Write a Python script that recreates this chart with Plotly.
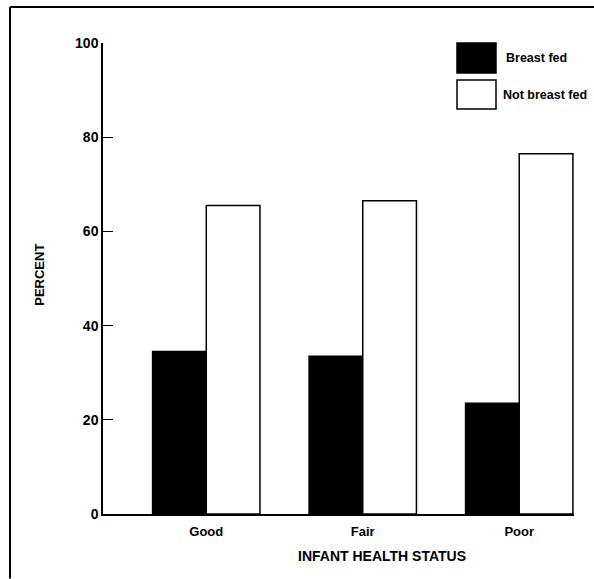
import plotly.graph_objects as go

categories = ["Good", "Fair", "Poor"]
breast_fed = [34.5, 33.5, 23.5]
not_breast_fed = [65.5, 66.5, 76.5]
y_ticks = [0, 20, 40, 60, 80, 100]
series_names = ["Breast fed", "Not breast fed"]

FONT = "Liberation Sans, Arial, Helvetica, sans-serif"
xpos = list(range(len(categories)))

fig = go.Figure()
fig.add_trace(go.Bar(x=xpos, y=breast_fed, name=series_names[0],
                     marker=dict(color="black", line=dict(color="black", width=1.5))))
fig.add_trace(go.Bar(x=xpos, y=not_breast_fed, name=series_names[1],
                     marker=dict(color="white", line=dict(color="black", width=1.5))))

fig.update_layout(
    width=594, height=579,
    margin=dict(l=103, r=20, t=43, b=65),
    paper_bgcolor="white", plot_bgcolor="white",
    barmode="group", bargap=0.314, bargroupgap=0,
    showlegend=False,
    font=dict(family=FONT, size=13, color="black", weight="bold"),
    xaxis=dict(range=[-0.66, 2.35], tickvals=xpos, ticktext=categories,
               showline=True, linecolor="black", linewidth=1.5,
               showgrid=False, zeroline=False, ticks="", ticklabelstandoff=5,
               tickfont=dict(family=FONT, size=13, weight="bold")),
    yaxis=dict(range=[0, 100], tickvals=y_ticks,
               showline=True, linecolor="black", linewidth=1.5,
               showgrid=False, zeroline=False, ticks="inside", ticklen=10,
               tickcolor="black", tickwidth=1.2,
               tickfont=dict(family=FONT, size=14, weight="bold")),
)

W = 471.0  # plot width in px
H = 471.5  # plot height in px

# axis titles
fig.add_annotation(text="INFANT HEALTH STATUS", xref="paper", yref="paper",
                   x=(382 - 103) / W, y=(514.5 - 557) / H, showarrow=False,
                   xanchor="center", yanchor="middle",
                   font=dict(family=FONT, size=14, weight="bold"))
fig.add_annotation(text="PERCENT", xref="paper", yref="paper",
                   x=(40 - 103) / W, y=(514.5 - 275) / H, showarrow=False,
                   textangle=-90, xanchor="center", yanchor="middle",
                   font=dict(family=FONT, size=13, weight="bold"))

# legend
fig.add_shape(type="rect", xref="paper", yref="paper",
              x0=(457 - 103) / W, x1=(496 - 103) / W,
              y0=(514.5 - 73) / H, y1=(514.5 - 43) / H,
              fillcolor="black", line=dict(color="black", width=1.5))
fig.add_shape(type="rect", xref="paper", yref="paper",
              x0=(457 - 103) / W, x1=(496 - 103) / W,
              y0=(514.5 - 109) / H, y1=(514.5 - 80) / H,
              fillcolor="white", line=dict(color="black", width=1.5))
fig.add_annotation(text=series_names[0], xref="paper", yref="paper",
                   x=(504 - 103) / W, y=(514.5 - 58) / H, showarrow=False,
                   xanchor="left", yanchor="middle",
                   font=dict(family=FONT, size=12.5, weight="bold"))
fig.add_annotation(text=series_names[1], xref="paper", yref="paper",
                   x=(501 - 103) / W, y=(514.5 - 95) / H, showarrow=False,
                   xanchor="left", yanchor="middle",
                   font=dict(family=FONT, size=12.5, weight="bold"))

# page frame (left and top edges)
fig.add_shape(type="line", xref="paper", yref="paper",
              x0=(10 - 103) / W, x1=(10 - 103) / W,
              y0=(514.5 - 579) / H, y1=(514.5 - 7) / H,
              line=dict(color="black", width=2))
fig.add_shape(type="line", xref="paper", yref="paper",
              x0=(10 - 103) / W, x1=(594 - 103) / W,
              y0=(514.5 - 7) / H, y1=(514.5 - 7) / H,
              line=dict(color="black", width=2))

fig.write_html("out.html",
               config={"displayModeBar": False},
               post_script="document.body.style.margin='0';document.body.style.padding='0';")
